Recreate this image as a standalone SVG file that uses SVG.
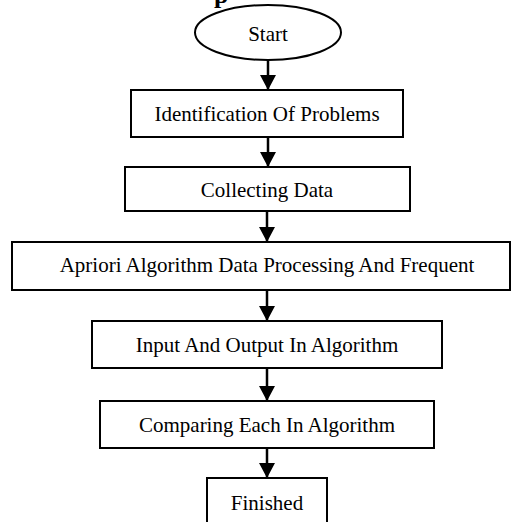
<svg xmlns="http://www.w3.org/2000/svg" width="513" height="522" viewBox="0 0 513 522">
<style>
.box{fill:#fff;stroke:#000;stroke-width:2}
.lbl{font-family:"Liberation Serif","Times New Roman",serif;font-size:21px;fill:#000;text-anchor:middle}
.conn{stroke:#000;stroke-width:2.5;fill:none;marker-end:url(#ah)}
</style>
<defs>
<marker id="ah" markerUnits="userSpaceOnUse" markerWidth="18" markerHeight="16" refX="15" refY="8" orient="auto">
<path d="M0,0 L15,8 L0,16 Z" fill="#000"/>
</marker>
</defs>
<rect width="513" height="522" fill="#fff"/>
<text x="214" y="3" style="font-family:'Liberation Serif',serif;font-size:26px;font-weight:bold">p</text>
<g id="connectors">
<line class="conn" x1="268" y1="60" x2="268" y2="90"/>
<line class="conn" x1="268" y1="137" x2="268" y2="167"/>
<line class="conn" x1="267" y1="211" x2="267" y2="242"/>
<line class="conn" x1="267" y1="290" x2="267" y2="321"/>
<line class="conn" x1="267" y1="368" x2="267" y2="401"/>
<line class="conn" x1="267" y1="448" x2="267" y2="478"/>
</g>
<g id="start">
<ellipse class="box" cx="268" cy="32.5" rx="73" ry="27.5"/>
<text class="lbl" x="268" y="41">Start</text>
</g>
<g id="identification">
<rect class="box" x="131" y="90" width="272" height="47"/>
<text class="lbl" x="267" y="121">Identification Of Problems</text>
</g>
<g id="collecting">
<rect class="box" x="125" y="167" width="285" height="44"/>
<text class="lbl" x="267" y="197">Collecting Data</text>
</g>
<g id="apriori">
<rect class="box" x="12" y="242" width="498" height="48"/>
<text class="lbl" x="267" y="272">Apriori Algorithm Data Processing And Frequent</text>
</g>
<g id="inputoutput">
<rect class="box" x="92" y="321" width="350" height="47"/>
<text class="lbl" x="267" y="352">Input And Output In Algorithm</text>
</g>
<g id="comparing">
<rect class="box" x="100" y="401" width="334" height="47"/>
<text class="lbl" x="267" y="432">Comparing Each In Algorithm</text>
</g>
<g id="finished">
<rect class="box" x="207" y="478" width="120" height="60"/>
<text class="lbl" x="267" y="510">Finished</text>
</g>
</svg>
